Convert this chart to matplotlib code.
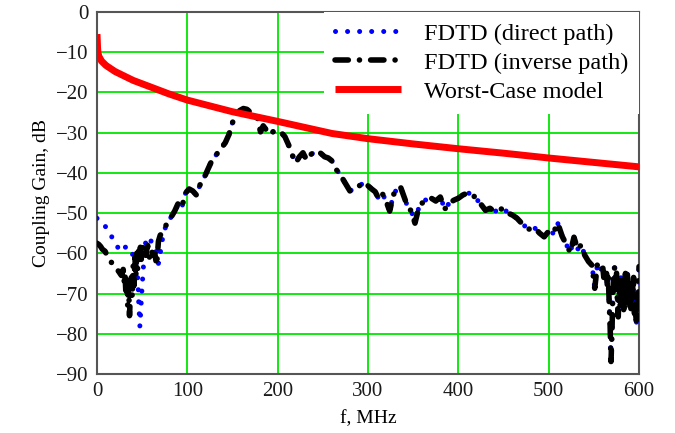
import numpy as np
import matplotlib
matplotlib.use("Agg")
import matplotlib.pyplot as plt

# worst-case model (red)
f_model = [0, 0.3, 0.6, 1, 2, 5, 10, 20, 40, 60, 80, 100, 150, 200, 260,
           300, 350, 400, 450, 500, 550, 600]
g_model = [-5.5, -7, -8.8, -10, -11, -12.2, -13.3, -14.8, -17, -18.7, -20.4,
           -21.9, -24.8, -27.2, -30.2, -31.5, -32.8, -34, -35.1, -36.3,
           -37.4, -38.5]

# FDTD inverse path (black)
f_inv = [0, 2, 4, 6, 9, 12, 15, 18, 21, 24, 27, 29, 30, 31, 32, 33, 34, 35,
         36, 37, 38, 39, 40, 41, 42, 43, 44, 45, 46, 47, 48, 49, 50, 52, 54,
         56, 58, 60, 62, 64, 66, 68, 70, 72, 75, 78, 82, 86, 90, 94, 98, 102,
         106, 110, 114, 118, 122, 127, 132, 137, 142, 146, 150, 154, 158, 162,
         166, 170, 174, 178, 181, 184, 188, 192, 196, 200, 204, 208, 212, 216,
         220, 224, 228, 232, 236, 240, 244, 248, 252, 256, 260, 264, 268, 272,
         276, 280, 284, 288, 292, 296, 300, 304, 308, 312, 316, 320, 324, 328,
         332, 336, 340, 344, 348, 352, 356, 360, 365, 370, 375, 380, 385, 390,
         395, 400, 405, 410, 415, 420, 425, 430, 435, 440, 445, 450, 455, 460,
         465, 470, 475, 480, 485, 490, 495, 500, 505, 510, 515, 520, 524, 528,
         532, 536, 540, 544, 548, 551, 554, 557, 560, 561, 562, 563, 564, 565,
         566, 567, 568, 569, 570, 571, 572, 573, 574, 575, 576, 577, 578, 579,
         580, 581, 582, 583, 584, 585, 586, 587, 588, 589, 590, 591, 592, 593,
         594, 595, 596, 597, 598, 599, 600]
g_inv = [-57.5, -57.8, -58.3, -59, -59.5, -61, -61.8, -63.2, -63.8, -64.5,
         -65.5, -64, -67, -65, -70, -66, -73, -68, -75.5, -70, -66, -71, -63,
         -68, -61, -66, -60, -64, -59.5, -62.5, -58.5, -61.5, -59, -58,
         -60.5, -58, -61, -59, -60.5, -60, -63, -57, -55.5, -55, -53.5, -52.5,
         -51, -49.5, -47.5, -48.5, -45, -44, -44.5, -45.5, -43, -41.5, -39.5,
         -37, -35.5, -34, -32.5, -30.5, -27.5, -25.5, -24.5, -24, -24.2, -25,
         -25.8, -26.5, -29.8, -28.3, -29.5, -30.5, -29.5, -29.5, -30, -31,
         -33, -35.5, -37.5, -36, -35, -36.8, -35.5, -35, -34.5, -35.2, -36,
         -36.3, -37, -39, -40, -41.5, -43, -44.5, -44, -43.5, -43, -42.3,
         -43.2, -44, -44.7, -46.5, -45.2, -47, -49.5, -45.5, -44, -43.5, -46,
         -48.5, -49.5, -52.5, -48.8, -47.5, -46.5, -46.3, -47, -46, -49,
         -47.5, -46.8, -46.3, -45.5, -45, -45.2, -46.5, -47.8, -49.3, -48.8,
         -49.6, -49.2, -48.8, -50, -50.5, -51.3, -52.5, -53.5, -54.2, -53.8,
         -55, -55.9, -54.5, -55, -52.5, -55.8, -58, -59.8, -56, -59, -57.9,
         -60.5, -62, -63, -68.7, -62.5, -64, -63.7, -66, -64, -67, -65, -68.3,
         -66, -72.4, -78, -86.9, -80, -70, -65, -63.5, -69, -64, -72, -75.8,
         -68, -73, -66, -71, -67, -74, -70.8, -65, -72, -64.6, -70, -73.3,
         -67, -74, -68, -72, -66, -75, -70.8, -78, -72, -76, -63.3]

# FDTD direct path (blue): differs below ~90 MHz, same trace above
f_dir_low = [0, 5, 9, 14, 20, 24, 27, 31, 35, 39, 42, 44, 45.5, 46, 47, 47.5,
             50, 53, 56, 60, 64, 68, 70, 72, 74, 77, 82, 86, 90]
g_dir_low = [-51.3, -52, -53.2, -55.2, -57, -59, -59.6, -58.5, -58.3, -60,
             -62, -63.5, -67.5, -71.5, -75.8, -78.2, -68, -58, -55.9, -57, -58,
             -62.5, -60, -57, -55, -52.5, -51, -50, -47.5]
split = f_inv.index(94)
f_dir = f_dir_low + f_inv[split:]
g_dir = g_dir_low + g_inv[split:]

plt.rcParams['font.family'] = ['Liberation Serif', 'DejaVu Serif']

fig = plt.figure(figsize=(6.75, 4.33), dpi=100)
ax = fig.add_axes([0.1437, 0.1363, 0.803, 0.836])

ax.plot(f_dir, g_dir, color='#0000ff', lw=3.6, linestyle=(0, (0.01, 2.4)),
        dash_capstyle='round', label='FDTD (direct path)', zorder=3)
ax.plot(f_inv, g_inv, color='black', lw=4.0,
        linestyle=(0, (2.4, 2.0, 0.01, 2.0)), dash_capstyle='round',
        label='FDTD (inverse path)', zorder=4)
ax.plot(f_model, g_model, color='#ff0000', lw=5, solid_capstyle='butt',
        label='Worst-Case model', zorder=5)

ax.set_xlim(0, 600)
ax.set_ylim(-90, 0)
ax.set_xticks(np.arange(0, 601, 100))
ax.set_yticks(np.arange(-90, 1, 10))
ax.grid(True, color='#00e600', lw=1.3)
ax.set_axisbelow(True)
ax.tick_params(length=0, labelsize=15, pad=6, labelcolor='#1a1a1a')
for s in ax.spines.values():
    s.set_color('#555555')
    s.set_linewidth(1.5)

ax.set_xlabel('f, MHz', fontsize=14, labelpad=6)
ax.set_ylabel('Coupling Gain, dB', fontsize=14, labelpad=4)

leg = ax.legend(loc='upper right', bbox_to_anchor=(1, 1), borderaxespad=0,
                fontsize=17.5, handlelength=2.7, handletextpad=0.95,
                labelspacing=0.28, fancybox=False, framealpha=1,
                borderpad=0.45)
leg.get_frame().set_edgecolor('none')
leg.set_zorder(10)

fig.savefig('out.png', dpi=100)
